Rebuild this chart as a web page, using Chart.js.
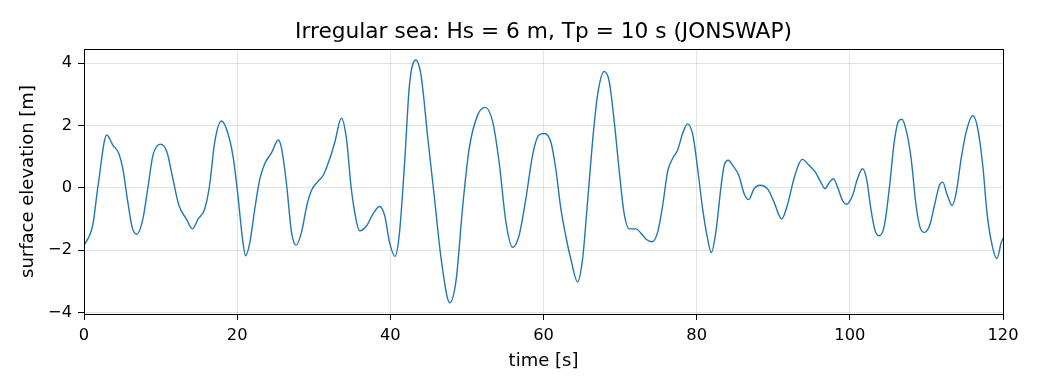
<!DOCTYPE html>
<html>
<head>
<meta charset="utf-8">
<script src="https://cdn.jsdelivr.net/npm/chart.js@4.4.1/dist/chart.umd.min.js"></script>
<style>
html, body { margin: 0; padding: 0; background: #fff; }
canvas { display: block; }
</style>
</head>
<body>
<canvas id="c" width="1040" height="390"></canvas>
<script>
const timeS = [
  0, 1.14, 1.8, 2.97, 3.76, 4.54, 5.07, 5.72, 6.29, 6.9,
  7.69, 8.34, 9.0, 9.96, 10.83, 11.6, 12.4, 13.36, 14.15, 14.9,
  15.76, 16.4, 17.07, 17.95, 18.8, 19.5, 20.1, 20.7, 21.1, 21.66,
  22.3, 22.97, 23.6, 24.5, 25.37, 25.8, 26.46, 27.1, 27.7, 28.4,
  29.1, 29.7, 30.5, 31.24, 32.1, 32.76, 33.6, 34.27, 34.9, 35.6,
  36.0, 36.9, 37.74, 38.6, 39.26, 39.9, 40.6, 41.2, 41.87, 42.5,
  43.34, 44.0, 44.9, 45.77, 46.64, 47.77, 48.6, 49.46, 50.3, 51.4,
  52.4, 53.36, 54.2, 55.1, 55.97, 56.8, 57.7, 58.57, 59.4, 60.1,
  60.96, 61.6, 62.27, 62.9, 63.57, 64.44, 65.1, 65.75, 66.4, 67.06,
  67.93, 68.58, 69.24, 69.9, 70.5, 71.2, 72.07, 72.7, 73.4, 74.16,
  74.9, 75.56, 76.2, 76.86, 77.5, 78.17, 78.8, 79.5, 80.13, 80.78,
  81.44, 81.92, 82.5, 83.2, 83.6, 84.14, 84.7, 85.5, 86.2, 86.8,
  87.5, 88.28, 89.3, 90.1, 91.1, 91.83, 92.7, 93.36, 93.8, 94.67,
  95.5, 96.2, 96.77, 97.3, 97.86, 98.4, 99.04, 99.6, 100.35, 101.0,
  101.66, 102.18, 102.75, 103.3, 103.84, 104.5, 105.15, 105.8, 106.33, 106.8,
  107.4, 108.0, 108.65, 109.17, 109.74, 110.4, 111.05, 111.7, 112.14, 112.66,
  113.36, 113.9, 114.54, 115.2, 116.07, 116.7, 117.4, 117.9, 118.5, 119.2,
  119.78, 120
];
const elevation = [
  -1.86, -1.2, 0, 1.69, 1.37, 1.1, 0.61, -0.46, -1.27, -1.49,
  -1.0, 0, 1.04, 1.40, 1.15, 0.29, -0.57, -1.0, -1.32, -1.0,
  -0.68, 0.08, 1.47, 2.14, 1.74, 0.94, -0.25, -1.65, -2.18, -1.75,
  -0.68, 0.29, 0.77, 1.13, 1.53, 1.26, 0.08, -1.43, -1.84, -1.43,
  -0.57, -0.09, 0.19, 0.4, 0.94, 1.47, 2.23, 1.58, -0.03, -1.11,
  -1.38, -1.22, -0.84, -0.60, -0.89, -1.75, -2.2, -1.43, 0.83, 3.3,
  4.10, 3.62, 1.58, -0.35, -2.29, -3.69, -2.94, -0.57, 1.26, 2.33,
  2.58, 2.12, 0.83, -1.11, -1.91, -1.54, -0.35, 1.04, 1.69, 1.74,
  1.47, 0.61, -0.68, -1.54, -2.29, -3.02, -2.29, -0.46, 1.47, 2.98,
  3.73, 3.41, 2.12, 0.51, -0.78, -1.32, -1.32, -1.45, -1.65, -1.73,
  -1.43, -0.57, 0.51, 0.94, 1.2, 1.74, 2.05, 1.69, 0.61, -0.68,
  -1.65, -2.08, -1.43, 0.08, 0.72, 0.88, 0.72, 0.4, -0.19, -0.38,
  -0.03, 0.08, -0.05, -0.46, -1.0, -0.57, 0.29, 0.77, 0.91, 0.72,
  0.5, 0.18, -0.03, 0.16, 0.29, 0.02, -0.41, -0.53, -0.25, 0.29,
  0.61, 0.29, -0.68, -1.38, -1.54, -1.22, -0.03, 1.47, 2.12, 2.20,
  1.8, 0.94, -0.57, -1.27, -1.43, -1.22, -0.57, 0.08, 0.18, -0.19,
  -0.57, -0.14, 0.94, 1.8, 2.31, 1.9, 0.61, -0.78, -1.75, -2.27,
  -1.75, -1.62
];
const xTicks = [0, 20, 40, 60, 80, 100, 120];
const yTicks = [-4, -2, 0, 2, 4];

const FONT = "'DejaVu Sans', sans-serif";
const points = timeS.map((t, i) => ({ x: t, y: elevation[i] }));

const frame = {
  id: 'frame',
  afterLayout(chart) {
    const t = chart.titleBlock, a = chart.chartArea;
    if (t && a) {
      t.left = a.left;
      t.right = a.right;
      t.width = a.right - a.left;
    }
  },
  afterDatasetsDraw(chart) {
    const a = chart.chartArea, ctx = chart.ctx;
    ctx.save();
    ctx.strokeStyle = '#000';
    ctx.lineWidth = 1;
    ctx.strokeRect(Math.round(a.left) + 0.5, Math.round(a.top) + 0.5,
                   Math.round(a.right - a.left), Math.round(a.bottom - a.top));
    ctx.restore();
  }
};

new Chart(document.getElementById('c'), {
  type: 'line',
  data: {
    datasets: [{
      data: points,
      borderColor: '#1f77b4',
      borderWidth: 1.4,
      pointRadius: 0,
      fill: false,
      cubicInterpolationMode: 'monotone'
    }]
  },
  options: {
    responsive: false,
    animation: false,
    events: [],
    layout: { padding: { left: 0, right: 37, top: 0, bottom: 0 } },
    plugins: {
      legend: { display: false },
      tooltip: { enabled: false },
      title: {
        display: true,
        text: 'Irregular sea: Hs = 6 m, Tp = 10 s (JONSWAP)',
        color: '#000',
        font: { family: FONT, size: 21.7, weight: 'normal' },
        padding: { top: 19.3, bottom: 3.7 }
      }
    },
    scales: {
      x: {
        type: 'linear',
        min: 0, max: 120,
        afterFit(s) { s.height = 76; },
        afterBuildTicks(s) { s.ticks = xTicks.map(v => ({ value: v })); },
        ticks: {
          color: '#000',
          font: { family: FONT, size: 16.25 },
          padding: 6,
          maxRotation: 0,
          callback: v => String(v)
        },
        grid: {
          color: 'rgba(176,176,176,0.35)',
          lineWidth: 1,
          tickColor: '#000',
          tickLength: 6,
          tickWidth: 1
        },
        border: { display: true, color: '#000', width: 1 },
        title: {
          display: true,
          text: 'time [s]',
          color: '#000',
          font: { family: FONT, size: 18 },
          padding: { top: 2, bottom: 18 }
        }
      },
      y: {
        type: 'linear',
        min: -4.05, max: 4.45,
        afterFit(s) { s.width = 84; },
        afterBuildTicks(s) { s.ticks = yTicks.map(v => ({ value: v })); },
        ticks: {
          color: '#000',
          font: { family: FONT, size: 16.25 },
          padding: 6,
          callback: v => String(v).replace('-', '\u2212')
        },
        grid: {
          color: 'rgba(176,176,176,0.35)',
          lineWidth: 1,
          tickColor: '#000',
          tickLength: 6,
          tickWidth: 1
        },
        border: { display: true, color: '#000', width: 1 },
        title: {
          display: true,
          text: 'surface elevation [m]',
          color: '#000',
          font: { family: FONT, size: 18 },
          padding: { top: 17.5, bottom: 2 }
        }
      }
    }
  },
  plugins: [frame]
});
</script>
</body>
</html>
